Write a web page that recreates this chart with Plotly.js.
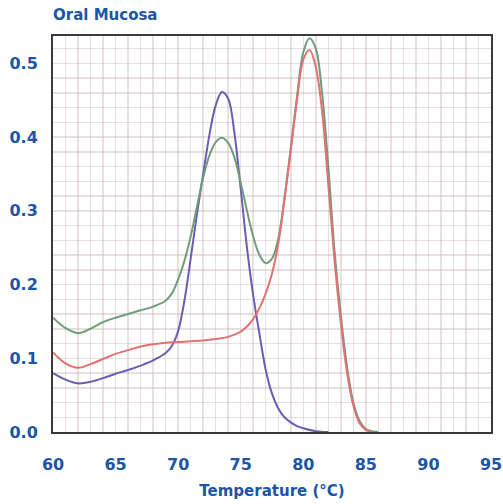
<!DOCTYPE html>
<html>
<head>
<meta charset="utf-8">
<script src="https://cdn.plot.ly/plotly-3.0.1.min.js"></script>
<style>
html,body{margin:0;padding:0;background:#fff;}
#chart{width:503px;height:504px;}
</style>
</head>
<body>
<div id="chart"></div>
<script>
const chartTitle = "Oral Mucosa";
const xAxisTitle = "Temperature (°C)";

const blueX = [60,61,62,63,64,65,66,67,68,69,69.5,70,70.5,71,71.5,72,72.5,73,73.5,74,74.5,75,75.5,76,76.5,77,77.5,78,78.5,79,79.5,80,81,82];
const blueY = [0.080,0.071,0.066,0.068,0.073,0.079,0.084,0.090,0.097,0.107,0.117,0.137,0.178,0.235,0.295,0.350,0.403,0.443,0.461,0.452,0.405,0.330,0.250,0.185,0.133,0.084,0.052,0.032,0.020,0.013,0.008,0.005,0.001,0.000];

const greenX = [60,61,62,63,64,65,66,67,68,69,69.5,70,70.5,71,71.5,72,72.5,73,73.5,74,74.5,75,75.5,76,76.5,77,77.5,78,78.5,79,79.5,80,80.5,81,81.5,82,82.5,83,83.5,84,84.5,85,85.5,86];
const greenY = [0.155,0.141,0.134,0.140,0.149,0.155,0.160,0.165,0.170,0.178,0.188,0.207,0.232,0.265,0.305,0.345,0.375,0.393,0.399,0.392,0.372,0.338,0.300,0.265,0.240,0.229,0.235,0.262,0.318,0.385,0.455,0.515,0.534,0.520,0.460,0.360,0.245,0.158,0.088,0.040,0.015,0.004,0.001,0.000];

const redX = [60,61,62,63,64,65,66,67,68,69,70,71,72,73,74,74.5,75,75.5,76,76.5,77,77.5,78,78.5,79,79.5,80,80.5,81,81.5,82,82.5,83,83.5,84,84.5,85,85.5];
const redY = [0.108,0.093,0.087,0.092,0.099,0.106,0.111,0.116,0.119,0.121,0.122,0.123,0.124,0.126,0.129,0.132,0.136,0.143,0.153,0.168,0.188,0.215,0.255,0.315,0.382,0.450,0.505,0.518,0.495,0.435,0.335,0.232,0.148,0.080,0.036,0.012,0.003,0.000];

const xTickVals = [60,65,70,75,80,85,90,95];
const yTickVals = [0.0,0.1,0.2,0.3,0.4,0.5];

const textColor = "#1b56a6";
const gridColor = "rgba(200,178,178,0.42)";

const traces = [
  {x: blueX, y: blueY, mode: "lines", line: {color: "#6a5db3", width: 2, shape: "spline"}, hoverinfo: "skip"},
  {x: greenX, y: greenY, mode: "lines", line: {color: "#6f9d7a", width: 2, shape: "spline"}, hoverinfo: "skip"},
  {x: redX, y: redY, mode: "lines", line: {color: "#e07272", width: 2, shape: "spline"}, hoverinfo: "skip"}
];

const layout = {
  width: 503, height: 504,
  margin: {l: 53, r: 12, t: 36, b: 72},
  paper_bgcolor: "#fff", plot_bgcolor: "#fff",
  showlegend: false,
  font: {family: "DejaVu Sans", color: textColor},
  title: {
    text: "<b>" + chartTitle + "</b>",
    font: {family: "DejaVu Sans", size: 15, color: textColor},
    x: 0, xref: "paper", xanchor: "left",
    y: 0.970, yref: "container", yanchor: "middle"
  },
  xaxis: {
    range: [60, 95],
    tickvals: xTickVals,
    ticktext: xTickVals.map(v => "<b>" + v + "</b>"),
    tickfont: {size: 16, color: textColor, family: "DejaVu Sans"},
    ticks: "", ticklabelstandoff: 17,
    showgrid: false,
    minor: {dtick: 1, showgrid: true, gridcolor: gridColor, gridwidth: 1.5},
    showline: true, mirror: true, linecolor: "#3a3a3a", linewidth: 2,
    zeroline: false,
    title: {text: "<b>" + xAxisTitle + "</b>", font: {size: 15, color: textColor, family: "DejaVu Sans"}, standoff: 12}
  },
  yaxis: {
    range: [0, 0.537],
    tickvals: yTickVals,
    ticktext: yTickVals.map(v => "<b>" + v.toFixed(1) + "</b>"),
    tickfont: {size: 16, color: textColor, family: "DejaVu Sans"},
    ticks: "", ticklabelstandoff: 10,
    showgrid: false,
    minor: {dtick: 0.02, showgrid: true, gridcolor: gridColor, gridwidth: 1.5},
    showline: true, mirror: true, linecolor: "#3a3a3a", linewidth: 2,
    zeroline: false
  }
};

Plotly.newPlot("chart", traces, layout, {staticPlot: true, displayModeBar: false});
</script>
</body>
</html>
